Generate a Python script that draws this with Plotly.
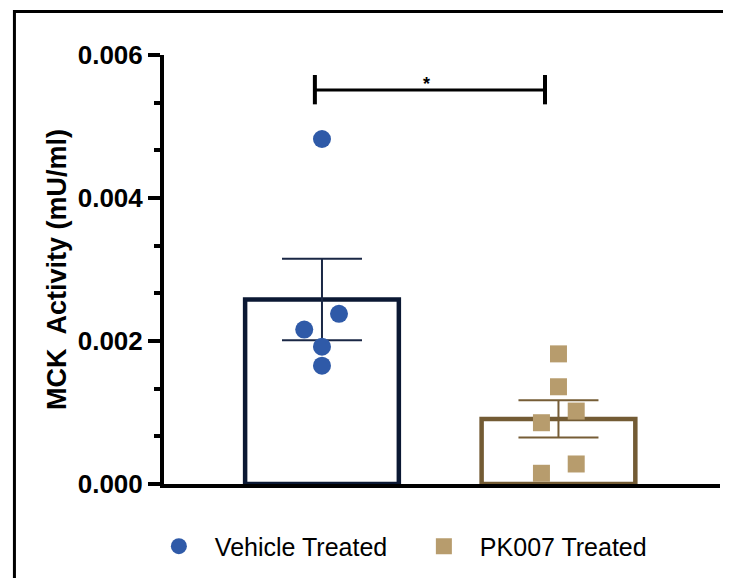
import plotly.graph_objects as go

# ---- data ----
groups = ["Vehicle Treated", "PK007 Treated"]
group_pos = [0, 1]
bar_means = [0.00258, 0.00091]
bar_sems = [0.00057, 0.00026]

vehicle_values = [0.004825, 0.00238, 0.00216, 0.00192, 0.001655]
vehicle_jitter = [0.0, 0.072, -0.075, 0.0, 0.0]
pk007_values = [0.00182, 0.00136, 0.00102, 0.000857, 0.00028, 0.00015]
pk007_jitter = [0.0, 0.0, 0.075, -0.072, 0.075, -0.072]

y_ticks = [0.000, 0.002, 0.004, 0.006]
y_ticklabels = ["0.000", "0.002", "0.004", "0.006"]

bar_line_colors = ["#0b1833", "#735b34"]
err_colors = ["#1a2745", "#765d36"]
point_colors = ["#2f5aa8", "#b79c6d"]

FONT = "Liberation Sans, Arial, sans-serif"

fig = go.Figure()

for i in range(2):
    fig.add_trace(go.Bar(
        x=[group_pos[i]], y=[bar_means[i]],
        width=0.65,
        marker=dict(color="rgba(255,255,255,0)",
                    line=dict(color=bar_line_colors[i], width=4.5)),
        error_y=dict(type="data", array=[bar_sems[i]], visible=True,
                     color=err_colors[i], thickness=2, width=40),
        showlegend=False, hoverinfo="skip",
    ))

fig.add_trace(go.Scatter(
    x=[group_pos[0] + j for j in vehicle_jitter], y=vehicle_values,
    mode="markers", name=groups[0],
    marker=dict(symbol="circle", size=18, color=point_colors[0]),
))
fig.add_trace(go.Scatter(
    x=[group_pos[1] + j for j in pk007_jitter], y=pk007_values,
    mode="markers", name=groups[1],
    marker=dict(symbol="square", size=17, color=point_colors[1]),
))

# significance bracket
br_y = 0.00551
br_x0, br_x1 = -0.03, 0.943
shapes = [
    dict(type="line", xref="x", yref="y", x0=br_x0, x1=br_x1, y0=br_y, y1=br_y,
         line=dict(color="black", width=3)),
    dict(type="line", xref="x", yref="y", x0=br_x0, x1=br_x0, y0=0.00531, y1=0.00572,
         line=dict(color="black", width=4)),
    dict(type="line", xref="x", yref="y", x0=br_x1, x1=br_x1, y0=0.00531, y1=0.00572,
         line=dict(color="black", width=4)),
    # outer frame
    dict(type="rect", xref="paper", yref="paper", x0=-0.269, x1=1.05, y0=-0.3, y1=1.1016,
         line=dict(color="black", width=3), fillcolor="rgba(0,0,0,0)", layer="below"),
]

fig.update_layout(
    width=723, height=570,
    margin=dict(l=156, r=11, t=47, b=94, autoexpand=False),
    paper_bgcolor="white", plot_bgcolor="white",
    barmode="overlay",
    shapes=shapes,
    annotations=[dict(x=0.44, y=br_y, xref="x", yref="y", text="<b>*</b>",
                      showarrow=False, yanchor="bottom", yshift=-6,
                      font=dict(family=FONT, size=18, color="black"))],
    xaxis=dict(range=[-0.668, 1.683], showgrid=False, zeroline=False,
               showticklabels=False, ticks="", showline=True,
               linecolor="black", linewidth=4),
    yaxis=dict(range=[0, 0.006], showgrid=False, zeroline=False,
               tickvals=y_ticks, ticktext=y_ticklabels,
               ticks="outside", ticklen=12, tickwidth=4, tickcolor="black",
               showline=True, linecolor="black", linewidth=4,
               tickfont=dict(family=FONT, size=26, color="black", weight="bold"),
               minor=dict(dtick=0.002 / 3, tick0=0, ticks="outside", ticklen=6,
                          tickwidth=4, tickcolor="black"),
               title=dict(text="MCK\u00a0 Activity (mU/ml)", standoff=4,
                          font=dict(family=FONT, size=27, color="black", weight="bold"))),
    legend=dict(orientation="h", x=-0.038, xanchor="left", y=-0.092, yanchor="top",
                itemwidth=62, entrywidth=188, entrywidthmode="pixels",
                font=dict(family=FONT, size=25, color="black"),
                bgcolor="rgba(0,0,0,0)"),
)

fig.write_html("out.html")
